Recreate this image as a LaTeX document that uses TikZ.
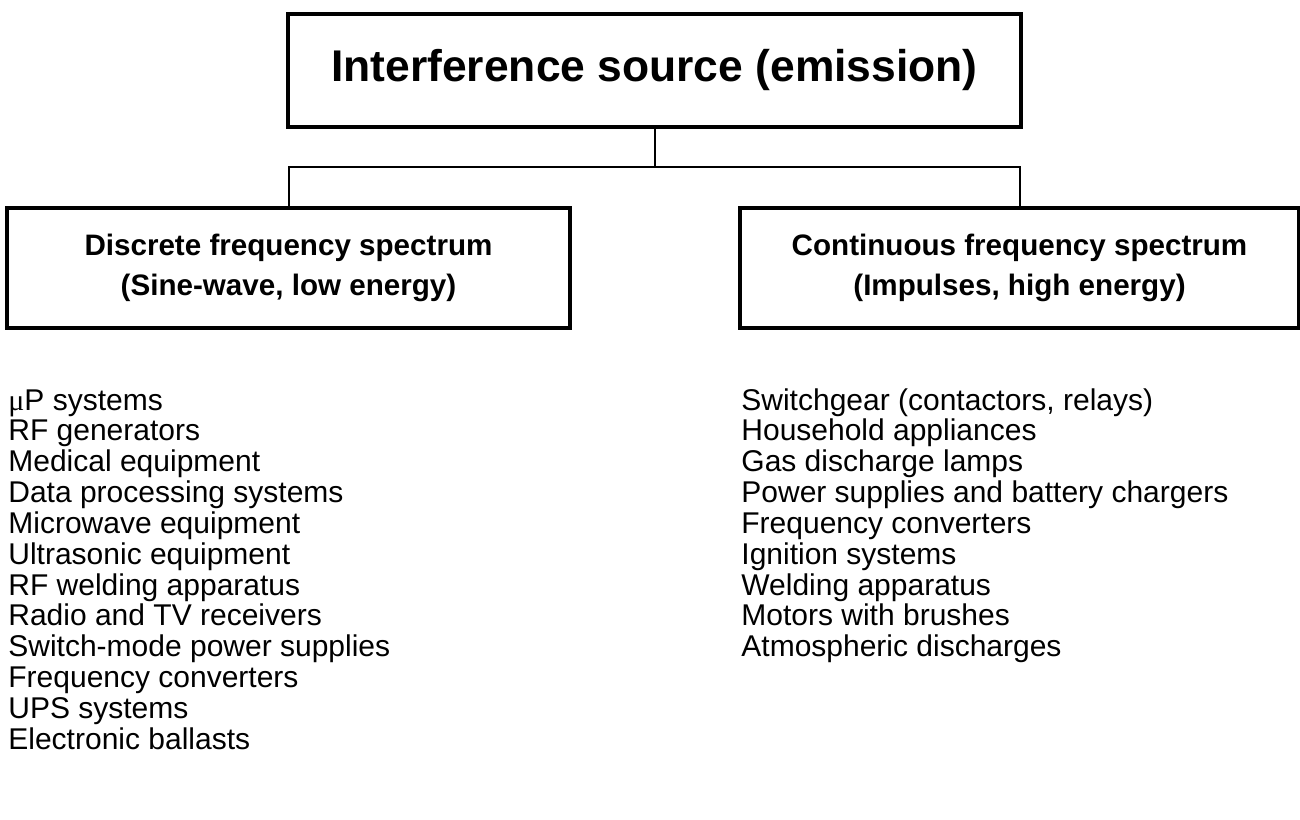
\documentclass[tikz,border=0pt]{standalone}
\usepackage{fontspec}
\setmainfont{Liberation Sans}
\newfontfamily\symf{Liberation Serif}
\begin{document}
\begin{tikzpicture}[x=0.5pt,y=-0.5pt,
  mainbox/.style={draw=black,line width=1.6pt,inner sep=0pt,align=center},
  title/.style={mainbox,minimum width=366.5pt,minimum height=56.5pt,font=\fontsize{22.2pt}{26pt}\selectfont\bfseries},
  subbox/.style={mainbox,minimum height=60pt,font=\fontsize{14.8pt}{20pt}\selectfont\bfseries},
  link/.style={draw=black,line width=1pt},
  item/.style={anchor=base west,inner sep=0pt,font=\fontsize{15pt}{15.4pt}\selectfont}]
\useasboundingbox (0,0) rectangle (1300,819);
\node[title] (top) at (654.5,70.5) {Interference source (emission)};
\node[subbox,minimum width=281.5pt] (left) at (288.5,268) {Discrete frequency spectrum\\(Sine-wave, low energy)};
\node[subbox,minimum width=279.5pt] (right) at (1019.5,268) {Continuous frequency spectrum\\(Impulses, high energy)};
\coordinate (j) at (654.5,167);
\draw[link] (top.south) -- (j);
\draw[link] (left.north) |- (j) -| (right.north);
\foreach \t [count=\i] in {{{\symf μ}P systems},RF generators,Medical equipment,Data processing systems,Microwave equipment,Ultrasonic equipment,RF welding apparatus,Radio and TV receivers,Switch-mode power supplies,Frequency converters,UPS systems,Electronic ballasts}
  \node[item] (L\i) at (8,{410+30.85*(\i-1)}) {\t};
\foreach \t [count=\i] in {{Switchgear (contactors, relays)},Household appliances,Gas discharge lamps,Power supplies and battery chargers,Frequency converters,Ignition systems,Welding apparatus,Motors with brushes,Atmospheric discharges}
  \node[item] (R\i) at (741,{410+30.85*(\i-1)}) {\t};
\end{tikzpicture}
\end{document}
